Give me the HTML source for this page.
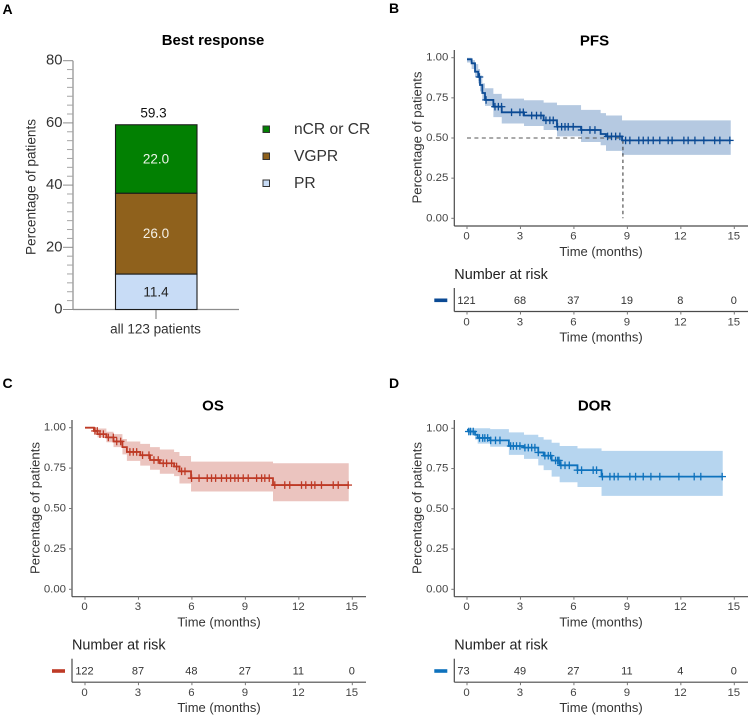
<!DOCTYPE html>
<html lang="en">
<head>
<meta charset="utf-8">
<title>Best response, PFS, OS and DOR</title>
<style>
html,body{margin:0;padding:0;background:#fff;width:750px;height:718px;overflow:hidden}
svg{display:block;font-family:"Liberation Sans",sans-serif}
text{fill:#333}
</style>
</head>
<body>
<svg id="figure" width="750" height="718" viewBox="0 0 750 718" xmlns="http://www.w3.org/2000/svg"></svg>
<script>
// Panel A data
const responseCategories = ['PR', 'VGPR', 'nCR or CR'];
const responseValues = [11.4, 26.0, 22.0];
const responseTotal = 59.3;
const responseTicks = [0, 20, 40, 60, 80];
const legendOrder = ['nCR or CR', 'VGPR', 'PR'];

// Shared Kaplan-Meier axes
const timeTicks = [0, 3, 6, 9, 12, 15];
const survivalTicks = [0, 0.25, 0.5, 0.75, 1];

// PFS
const pfsTimes = [0, 0.26, 0.45, 0.63, 0.73, 0.86, 1.01, 1.48, 1.95, 3.2, 4.3, 5.05, 6.4, 7.5, 7.8, 8.7];
const pfsSurvival = [0.99, 0.965, 0.913, 0.88, 0.83, 0.78, 0.737, 0.695, 0.66, 0.64, 0.61, 0.57, 0.55, 0.525, 0.51, 0.485];
const pfsUpper = [1.0, 0.985, 0.96, 0.93, 0.89, 0.84, 0.81, 0.775, 0.745, 0.735, 0.72, 0.705, 0.675, 0.655, 0.64, 0.61];
const pfsLower = [0.97, 0.93, 0.88, 0.84, 0.79, 0.74, 0.7, 0.63, 0.59, 0.575, 0.55, 0.51, 0.475, 0.455, 0.42, 0.395];
const pfsCensored = [0.7, 1.07, 1.57, 1.76, 1.94, 2.5, 2.97, 3.16, 3.63, 3.9, 4.15, 4.43, 4.65, 4.84, 5.08, 5.31, 5.5, 5.68, 5.96, 6.43, 6.9, 7.18, 7.89, 8.11, 8.34, 8.58, 8.9, 9.14, 9.64, 9.89, 10.17, 10.45, 10.82, 11.29, 11.51, 12.17, 12.41, 12.79, 13.29, 13.9, 14.19, 14.75];
const pfsEnd = 14.8;
const pfsMedian = 8.75;
const pfsAtRisk = [121, 68, 37, 19, 8, 0];

// OS
const osTimes = [0, 0.5, 0.7, 1.2, 1.6, 2.1, 2.35, 3.1, 3.65, 4.2, 5.0, 5.3, 5.95, 10.55];
const osSurvival = [1.0, 0.98, 0.96, 0.94, 0.915, 0.88, 0.85, 0.83, 0.8, 0.78, 0.76, 0.73, 0.688, 0.645];
const osUpper = [1.0, 1.0, 0.995, 0.975, 0.96, 0.93, 0.915, 0.9, 0.88, 0.865, 0.85, 0.825, 0.79, 0.78];
const osLower = [1.0, 0.96, 0.94, 0.91, 0.88, 0.835, 0.795, 0.765, 0.74, 0.715, 0.7, 0.655, 0.605, 0.545];
const osCensored = [0.56, 0.69, 0.84, 1.03, 1.31, 1.59, 1.78, 2.0, 2.52, 2.71, 2.9, 3.23, 3.59, 3.87, 4.11, 4.39, 4.58, 4.86, 5.14, 5.42, 5.61, 5.98, 6.4, 6.86, 7.1, 7.33, 7.66, 7.94, 8.17, 8.41, 8.6, 8.88, 9.16, 9.63, 9.91, 10.09, 10.34, 10.65, 11.21, 11.49, 12.15, 12.39, 12.71, 12.9, 13.27, 13.93, 14.21, 14.77];
const osEnd = 14.8;
const osAtRisk = [122, 87, 48, 27, 11, 0];

// DOR
const dorTimes = [0, 0.1, 0.45, 0.6, 1.3, 2.35, 3.2, 4.0, 4.3, 4.75, 5.2, 6.2, 7.55];
const dorSurvival = [0.99, 0.98, 0.96, 0.94, 0.925, 0.89, 0.88, 0.85, 0.83, 0.8, 0.77, 0.74, 0.7];
const dorUpper = [1.0, 1.0, 1.0, 1.0, 0.995, 0.975, 0.96, 0.945, 0.93, 0.91, 0.89, 0.875, 0.86];
const dorLower = [0.98, 0.96, 0.93, 0.905, 0.885, 0.835, 0.81, 0.77, 0.74, 0.7, 0.665, 0.635, 0.58];
const dorCensored = [0.1, 0.2, 0.35, 0.7, 0.88, 1.0, 1.16, 1.33, 1.6, 1.85, 2.45, 2.6, 2.78, 2.97, 3.25, 3.44, 3.63, 3.81, 4.0, 4.37, 4.56, 4.69, 4.97, 5.09, 5.16, 5.27, 5.5, 5.74, 6.2, 6.43, 7.08, 7.27, 7.6, 8.02, 8.26, 8.48, 9.14, 9.46, 9.89, 10.32, 10.82, 11.89, 12.75, 13.12, 14.32];
const dorEnd = 14.35;
const dorAtRisk = [73, 49, 27, 11, 4, 0];

const SVGNS = 'http://www.w3.org/2000/svg';
const root = document.getElementById('figure');

function node(parent, tag, attrs, content) {
  const el = document.createElementNS(SVGNS, tag);
  for (const k in attrs) el.setAttribute(k, attrs[k]);
  if (content !== undefined) el.textContent = content;
  parent.appendChild(el);
  return el;
}
function group(parent, name) {
  const g = document.createElementNS(SVGNS, 'g');
  
  
  parent.appendChild(g);
  return g;
}
function label(parent, name, x, y, str, size, opts) {
  const t = node(parent, 'text', Object.assign({x: x, y: y, 'font-size': size, 'text-anchor': 'middle', 'dominant-baseline': 'central'}, opts || {}), str);
  
  
  return t;
}
function line(parent, x1, y1, x2, y2, stroke, width, extra) {
  return node(parent, 'line', Object.assign({x1: x1, y1: y1, x2: x2, y2: y2, stroke: stroke, 'stroke-width': width}, extra || {}));
}
const AXIS = '#4a4a4a';
const TICK = '#777';

/* Panel letters */
[['A', 2.5, 9], ['B', 389, 8], ['C', 2.5, 383], ['D', 389, 383]].forEach(function (p) {
  label(root, 'panel-letter-' + p[0].toLowerCase(), p[1], p[2], p[0], 14, {'text-anchor': 'start', 'font-weight': 'bold', style: 'fill:#000'});
});

/* Panel A */
(function () {
  const g = group(root, 'best-response-panel');
  const y = function (v) { return 309.5 - v * (309.5 - 60.7) / 80; };
  const barLeft = 115.5, barRight = 197, axisX = 73;
  const colors = {'PR': '#c8dcf6', 'VGPR': '#8f611c', 'nCR or CR': '#028002'};
  const textColors = {'PR': '#222', 'VGPR': '#f4f0e6', 'nCR or CR': '#eef5ea'};

  label(g, 'best-response-title', 213, 41, 'Best response', 14.9, {'font-weight': 'bold', style: 'fill:#000'});
  label(g, 'y-axis-title', 31, 187, 'Percentage of patients', 13.6, {transform: 'rotate(-90 31 187)'});

  line(g, axisX, y(80), axisX, y(0), '#8c8c8c', 1.2);
  line(g, axisX, y(0), 239, y(0), '#8c8c8c', 1.2);
  for (let i = 0; i < responseTicks.length; i++) {
    const v = responseTicks[i];
    line(g, axisX - 10, y(v), axisX, y(v), '#8c8c8c', 1);
    label(g, 'y-tick-' + v, axisX - 10.5, y(v), String(v), 14.8, {'text-anchor': 'end'});
    if (i < responseTicks.length - 1) {
      const step = (responseTicks[i + 1] - v) / 7;
      for (let m = 1; m < 7; m++) line(g, axisX - 6, y(v + m * step), axisX, y(v + m * step), '#a5a5a5', 1);
    }
  }
  line(g, 156, y(0), 156, 319, '#8c8c8c', 1.2);
  label(g, 'x-tick-all-patients', 155.5, 329, 'all 123 patients', 13.5);

  let base = 0;
  responseCategories.forEach(function (c, i) {
    const v = responseValues[i];
    const seg = node(g, 'rect', {x: barLeft, y: y(base + v), width: barRight - barLeft, height: y(base) - y(base + v), fill: colors[c], stroke: '#1b1b1b', 'stroke-width': 1.1});
    
    
    label(g, 'bar-value-' + c.toLowerCase().replace(/ /g, '-'), 156, y(base + v / 2), v.toFixed(1), 13.5, {style: 'fill:' + textColors[c]});
    base += v;
  });
  label(g, 'bar-total-value', 153.5, y(base) - 12, responseTotal.toFixed(1), 13.5, {style: 'fill:#111'});

  legendOrder.forEach(function (c, i) {
    const ly = 129.5 + i * 27;
    const entry = group(g, 'legend-entry-' + c.toLowerCase().replace(/ /g, '-'));
    node(entry, 'rect', {x: 263, y: ly - 3.5, width: 6.5, height: 6.5, fill: colors[c], stroke: '#333', 'stroke-width': 1});
    label(entry, 'legend-label', 294, ly, c, 15.6, {'text-anchor': 'start'});
  });
})();

/* Kaplan-Meier helpers */
function stepPoints(times, values, end, xf, yf) {
  const pts = [];
  for (let i = 0; i < times.length; i++) {
    const next = i + 1 < times.length ? times[i + 1] : end;
    pts.push(xf(times[i]).toFixed(2) + ',' + yf(values[i]).toFixed(2));
    pts.push(xf(next).toFixed(2) + ',' + yf(values[i]).toFixed(2));
  }
  return pts;
}
function stepValue(times, values, t) {
  let v = values[0];
  for (let i = 0; i < times.length; i++) if (times[i] <= t) v = values[i];
  return v;
}

function kmPanel(cfg) {
  const g = group(root, cfg.name + '-panel');
  const xf = function (t) { return cfg.x0 + t * (cfg.x15 - cfg.x0) / 15; };
  const yf = function (s) { return cfg.y0 - s * (cfg.y0 - cfg.y1) / 1; };
  const lc = cfg.name;

  label(g, lc + '-title', cfg.titleX, cfg.titleY, cfg.title, 15, {'font-weight': 'bold', style: 'fill:#000'});

  const upper = stepPoints(cfg.times, cfg.upper, cfg.end, xf, yf);
  const lower = stepPoints(cfg.times, cfg.lower, cfg.end, xf, yf).reverse();
  const band = node(g, 'polygon', {points: upper.concat(lower).join(' '), fill: cfg.band});
  
  

  if (cfg.median !== undefined) {
    line(g, xf(0), yf(0.5), xf(cfg.median), yf(0.5), '#555', 1, {'stroke-dasharray': '4 3.4'});
    line(g, xf(cfg.median), yf(stepValue(cfg.times, cfg.surv, cfg.median)), xf(cfg.median), yf(0), '#333', 1, {'stroke-dasharray': '3.4 3'});
  }

  const curve = node(g, 'polyline', {points: stepPoints(cfg.times, cfg.surv, cfg.end, xf, yf).join(' '), fill: 'none', stroke: cfg.color, 'stroke-width': 1.8});
  
  

  const marks = group(g, lc + '-censor-marks');
  cfg.censored.forEach(function (t) {
    const s = stepValue(cfg.times, cfg.surv, t);
    line(marks, xf(t) - 3.8, yf(s), xf(t) + 3.8, yf(s), cfg.color, 1.3);
    line(marks, xf(t), yf(s) - 3.8, xf(t), yf(s) + 3.8, cfg.color, 1.3);
  });

  /* axes */
  line(g, cfg.axisX, cfg.axisTop, cfg.axisX, cfg.axisBottom, AXIS, 1.2);
  line(g, cfg.axisX, cfg.axisBottom, cfg.axisRight, cfg.axisBottom, AXIS, 1.2);
  survivalTicks.forEach(function (s) {
    line(g, cfg.axisX - 3, yf(s), cfg.axisX, yf(s), TICK, 1);
    label(g, lc + '-y-tick-' + s, cfg.axisX - 6, yf(s), s.toFixed(2), 11.4, {'text-anchor': 'end', style: 'fill:#444'});
  });
  timeTicks.forEach(function (t) {
    line(g, xf(t), cfg.axisBottom, xf(t), cfg.axisBottom + 3, TICK, 1);
    label(g, lc + '-x-tick-' + t, xf(t) - 0.5, cfg.axisBottom + 10.5, String(t), 11.4, {style: 'fill:#444'});
  });
  label(g, lc + '-x-axis-title', cfg.timeX, cfg.axisBottom + 25.5, 'Time (months)', 13);
  label(g, lc + '-y-axis-title', cfg.yTitleX, cfg.yTitleY, 'Percentage of patients', 13.2, {transform: 'rotate(-90 ' + cfg.yTitleX + ' ' + cfg.yTitleY + ')'});

  /* risk table */
  const risk = group(g, lc + '-number-at-risk-table');
  const rTop = cfg.axisBottom + 62, rBottom = cfg.axisBottom + 85.5;
  label(risk, lc + '-risk-title', cfg.axisX, rTop - 13, 'Number at risk', 14.4, {'text-anchor': 'start', style: 'fill:#222'});
  line(risk, cfg.axisX, rTop, cfg.axisX, rBottom, AXIS, 1.2);
  line(risk, cfg.axisX, rBottom, cfg.axisRight, rBottom, AXIS, 1.2);
  const key = node(risk, 'rect', {x: cfg.axisX - 20, y: rTop + 10.5, width: 13, height: 3.6, fill: cfg.color});
  
  
  timeTicks.forEach(function (t, i) {
    line(risk, xf(t), rBottom, xf(t), rBottom + 3, TICK, 1);
    label(risk, lc + '-at-risk-' + t, xf(t) + (i === 0 ? cfg.firstRiskDx : -0.5), rTop + 13, String(cfg.atRisk[i]), 11, {style: 'fill:#333'});
    label(risk, lc + '-risk-x-tick-' + t, xf(t) - 0.5, rBottom + 11, String(t), 11.4, {style: 'fill:#444'});
  });
  label(risk, lc + '-risk-x-axis-title', cfg.timeX, rBottom + 25.5, 'Time (months)', 13);
}

kmPanel({name: 'pfs', title: 'PFS', titleX: 594.5, titleY: 41, x0: 467, x15: 734.3, y0: 218.3, y1: 57.7,
  axisX: 454.3, axisTop: 50, axisBottom: 226, axisRight: 748, timeX: 601, yTitleX: 417, yTitleY: 137.5,
  times: pfsTimes, surv: pfsSurvival, upper: pfsUpper, lower: pfsLower, censored: pfsCensored, end: pfsEnd,
  median: pfsMedian, atRisk: pfsAtRisk, color: '#0b4a94', band: '#b5c9e1', firstRiskDx: -0.5});

kmPanel({name: 'os', title: 'OS', titleX: 213, titleY: 406, x0: 85, x15: 352.3, y0: 589.3, y1: 427.7,
  axisX: 72, axisTop: 420, axisBottom: 596.7, axisRight: 366, timeX: 219, yTitleX: 35, yTitleY: 508,
  times: osTimes, surv: osSurvival, upper: osUpper, lower: osLower, censored: osCensored, end: osEnd,
  atRisk: osAtRisk, color: '#be3a26', band: '#ebc4bf', firstRiskDx: -0.5});

kmPanel({name: 'dor', title: 'DOR', titleX: 594.5, titleY: 406, x0: 467, x15: 734.3, y0: 589.3, y1: 428.3,
  axisX: 454.3, axisTop: 420, axisBottom: 596.7, axisRight: 748, timeX: 601, yTitleX: 417, yTitleY: 508,
  times: dorTimes, surv: dorSurvival, upper: dorUpper, lower: dorLower, censored: dorCensored, end: dorEnd,
  atRisk: dorAtRisk, color: '#0e72bd', band: '#b6d5ef', firstRiskDx: -3.5});
</script>
</body>
</html>
